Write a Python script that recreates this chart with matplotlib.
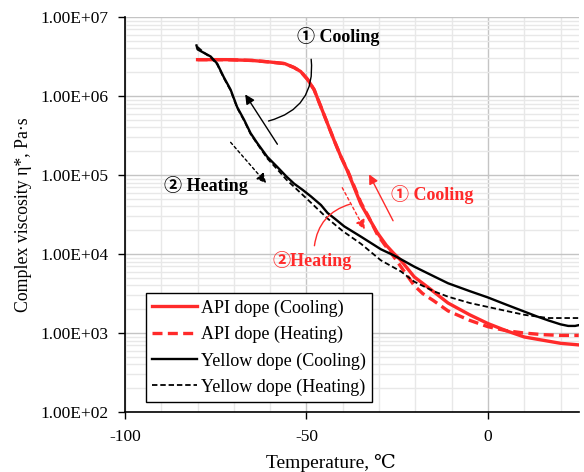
import numpy as np
import matplotlib
matplotlib.use("Agg")
import matplotlib.pyplot as plt
from matplotlib.ticker import FuncFormatter, LogLocator, MultipleLocator

plt.rcParams['font.family'] = ['Liberation Serif', 'DejaVu Serif', 'Noto Sans CJK JP']
plt.rcParams['axes.unicode_minus'] = False

# temperature (C) and log10 of complex viscosity
api_cool_t = [-80, -72, -65, -60, -56, -53.4, -51.6, -49.7, -47.9, -46, -44.2, -42.4, -40.5,
              -38.7, -35, -33, -30.5, -28, -26, -24, -20.3, -16, -11, -5, 0, 5, 10, 15, 20, 25]
api_cool_v = [6.46, 6.46, 6.45, 6.43, 6.41, 6.36, 6.31, 6.21, 6.08, 5.86, 5.65, 5.44, 5.23,
              5.05, 4.63, 4.47, 4.27, 4.11, 4.01, 3.92, 3.71, 3.56, 3.38, 3.23, 3.12, 3.03,
              2.95, 2.91, 2.87, 2.85]

api_heat_t = [-80, -72, -65, -60, -56, -53.4, -51.6, -49.7, -47.9, -46, -44.2, -42.4, -40.5,
              -38.7, -35, -33, -30.5, -28.5, -26, -24, -22, -20.3, -18, -15, -11, -5, 0, 5,
              10, 15, 20, 25]
api_heat_v = [6.46, 6.46, 6.45, 6.43, 6.41, 6.36, 6.31, 6.21, 6.08, 5.86, 5.65, 5.44, 5.23,
              5.06, 4.65, 4.48, 4.25, 4.12, 3.97, 3.84, 3.71, 3.60, 3.50, 3.41, 3.28, 3.16,
              3.08, 3.03, 3.00, 2.98, 2.97, 2.97]

yel_cool_t = [-80.3, -80, -78, -76.4, -74.6, -72.8, -70.9, -69.1, -67.2, -65.4, -63.5, -60.8,
              -58, -55.5, -53.4, -51, -48.8, -46, -44.2, -42, -39.6, -35, -29.5, -25.8, -20.3,
              -15, -11, -5, 0, 5, 10.1, 13.5, 16.6, 20, 22.1, 24, 25]
yel_cool_v = [6.64, 6.59, 6.54, 6.50, 6.41, 6.24, 6.08, 5.86, 5.70, 5.53, 5.40, 5.23,
              5.10, 4.98, 4.89, 4.81, 4.73, 4.62, 4.52, 4.44, 4.35, 4.22, 4.06, 3.98, 3.84,
              3.72, 3.63, 3.53, 3.45, 3.36, 3.27, 3.21, 3.16, 3.11, 3.09, 3.09, 3.10]

yel_heat_t = [-80, -78, -76.4, -74.6, -72.8, -70.9, -69.1, -67.2, -65.4, -63.5, -60.8, -58,
              -55.5, -53.4, -49, -44.2, -40, -35, -29.5, -24, -20.3, -15, -11, -5, 0, 5, 10.1,
              16.6, 20, 25]
yel_heat_v = [6.62, 6.54, 6.49, 6.40, 6.23, 6.07, 5.85, 5.69, 5.52, 5.39, 5.21, 5.07,
              4.94, 4.85, 4.66, 4.45, 4.29, 4.13, 3.92, 3.78, 3.65, 3.53, 3.46, 3.38, 3.33,
              3.28, 3.23, 3.19, 3.19, 3.19]

red = '#ff2a2a'

fig = plt.figure(figsize=(5.84, 4.72), dpi=100)
ax = fig.add_axes([0.214, 0.127, 0.777, 0.837])

ax.plot(api_cool_t, 10 ** np.array(api_cool_v), color=red, lw=2.4, label='API dope (Cooling)')
ax.plot(api_heat_t, 10 ** np.array(api_heat_v), color=red, lw=2.4, ls=(0, (3, 1.6)),
        label='API dope (Heating)')
ax.plot(yel_cool_t, 10 ** np.array(yel_cool_v), color='black', lw=1.7, label='Yellow dope (Cooling)')
ax.plot(yel_heat_t, 10 ** np.array(yel_heat_v), color='black', lw=1.3, ls=(0, (3, 1.6)),
        label='Yellow dope (Heating)')

ax.set_yscale('log')
ax.set_xlim(-100, 25)
ax.set_ylim(1e2, 1e7)

ax.xaxis.set_major_locator(MultipleLocator(50))
ax.xaxis.set_minor_locator(MultipleLocator(10))
ax.yaxis.set_major_locator(LogLocator(base=10))
ax.yaxis.set_minor_locator(LogLocator(base=10, subs=np.arange(2, 10)))
ax.yaxis.set_major_formatter(FuncFormatter(lambda v, p: f"{v:.2E}"))
ax.xaxis.set_major_formatter(FuncFormatter(lambda v, p: f"{v:.0f}"))

ax.grid(which='major', color='#c4c4c4', lw=1.0)
ax.grid(which='minor', color='#e8e8e8', lw=1.0)
ax.set_axisbelow(True)
ax.tick_params(which='major', direction='out', length=5, width=1, labelsize=12.5,
               colors='black', pad=7)
ax.tick_params(which='minor', length=0)
for s in ['top', 'right']:
    ax.spines[s].set_visible(False)
for s in ['left', 'bottom']:
    ax.spines[s].set_linewidth(1.2)

ax.set_xlabel('Temperature, ℃', fontsize=14, labelpad=7)
ax.xaxis.set_label_coords(0.454, -0.105)
ax.set_ylabel('Complex viscosity η*, Pa·s', fontsize=12.8, labelpad=6)

leg = ax.legend(loc='lower left', bbox_to_anchor=(0.046, 0.025), fontsize=13, frameon=True,
                fancybox=False, edgecolor='black', framealpha=1, handlelength=2.5,
                borderpad=0.35, labelspacing=0.5, handletextpad=0.2, borderaxespad=0)
leg.get_frame().set_linewidth(1.0)

# black annotations
bold = dict(fontsize=13, fontweight='bold')
ax.text(-41.3, 10 ** 6.75, '① Cooling', ha='center', va='center', color='black', **bold)
ax.text(-77.8, 10 ** 4.87, '② Heating', ha='center', va='center', color='black', **bold)
ax.annotate('', xy=(-67.3, 10 ** 6.05), xytext=(-57.6, 10 ** 5.36),
            arrowprops=dict(arrowstyle='-|>', color='black', lw=1.0, mutation_scale=14))
ax.annotate('', xy=(-60.6, 10 ** 4.87), xytext=(-71.4, 10 ** 5.44),
            arrowprops=dict(arrowstyle='-|>', color='black', lw=1.0, ls=(0, (2, 2)),
                            mutation_scale=14))
ax.annotate('', xy=(-61.2, 10 ** 5.675), xytext=(-48.8, 10 ** 6.50),
            arrowprops=dict(arrowstyle='-', color='black', lw=1.0,
                            connectionstyle='arc3,rad=-0.45'))

# red annotations
ax.text(-15.4, 10 ** 4.75, '① Cooling', ha='center', va='center', color=red, **bold)
ax.text(-48.5, 10 ** 3.92, '②Heating', ha='center', va='center', color=red, **bold)
ax.annotate('', xy=(-33.1, 10 ** 5.04), xytext=(-25.8, 10 ** 4.39),
            arrowprops=dict(arrowstyle='-|>', color=red, lw=1.0, mutation_scale=14))
ax.annotate('', xy=(-33.6, 10 ** 4.28), xytext=(-40.5, 10 ** 4.87),
            arrowprops=dict(arrowstyle='-|>', color=red, lw=1.0, ls=(0, (2, 2)),
                            mutation_scale=14))
ax.annotate('', xy=(-47.9, 10 ** 4.07), xytext=(-37.3, 10 ** 4.64),
            arrowprops=dict(arrowstyle='-', color=red, lw=1.0,
                            connectionstyle='arc3,rad=0.35'))

fig.savefig('out.png', dpi=100)
